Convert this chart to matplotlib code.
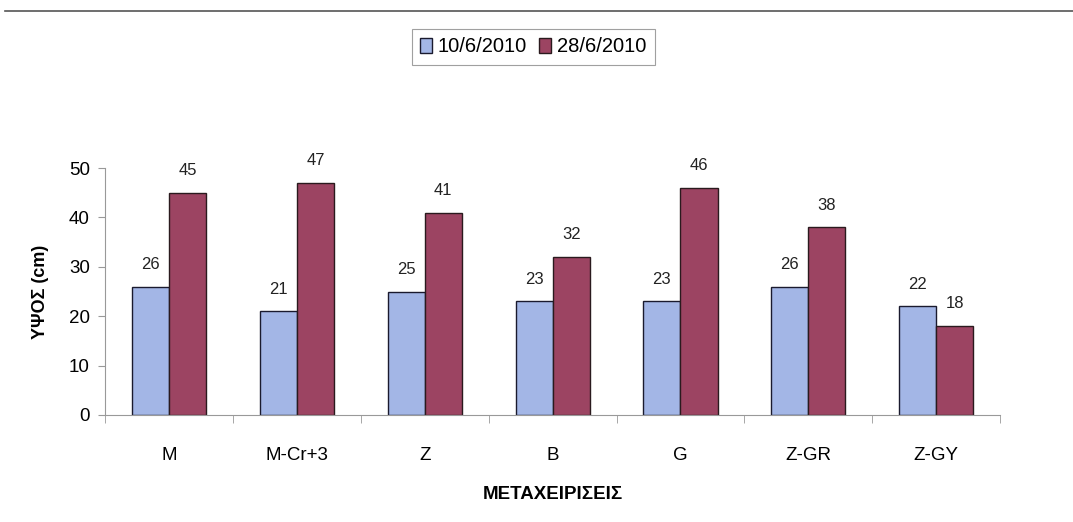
import numpy as np
import matplotlib.pyplot as plt
from matplotlib.lines import Line2D

plt.rcParams['font.family'] = ['Liberation Sans', 'DejaVu Sans']

categories = ["M", "M-Cr+3", "Z", "B", "G", "Z-GR", "Z-GY"]
height_10_6 = [26, 21, 25, 23, 23, 26, 22]
height_28_6 = [45, 47, 41, 32, 46, 38, 18]
series_labels = ["10/6/2010", "28/6/2010"]

fig = plt.figure(figsize=(10.73, 5.22), dpi=100)
ax = fig.add_axes([0.098, 0.205, 0.834, 0.473])

x = np.arange(len(categories))
w = 0.29
b1 = ax.bar(x - w / 2, height_10_6, w, color='#a3b6e6', edgecolor='#1a1a2e',
            linewidth=1.0, label=series_labels[0])
b2 = ax.bar(x + w / 2, height_28_6, w, color='#9c4462', edgecolor='#2a1a1e',
            linewidth=1.0, label=series_labels[1])

for bars, vals in ((b1, height_10_6), (b2, height_28_6)):
    for rect, v in zip(bars, vals):
        ax.annotate(f"{v}", (rect.get_x() + rect.get_width() / 2, v),
                    xytext=(0, 16), textcoords='offset points',
                    ha='center', va='center', fontsize=12,
                    color='#222222', annotation_clip=False)

ax.set_xlim(-0.5, len(categories) - 0.5)
ax.set_ylim(0, 50)
ax.set_yticks(range(0, 51, 10))
ax.tick_params(axis='y', labelsize=13.5, length=5, color='#999999', pad=6)
ax.set_xticks(x)
ax.set_xticklabels(categories)
ax.set_xticks(np.arange(-0.5, len(categories)), minor=True)
ax.tick_params(axis='x', which='major', length=0, labelsize=13.5, pad=23)
ax.tick_params(axis='x', which='minor', length=6, color='#999999')

for s in ('top', 'right'):
    ax.spines[s].set_visible(False)
for s in ('left', 'bottom'):
    ax.spines[s].set_color('#999999')

ax.set_ylabel("ΥΨΟΣ (cm)", fontsize=13, fontweight='bold', labelpad=14)
ax.set_xlabel("ΜΕΤΑΧΕΙΡΙΣΕΙΣ", fontsize=13.5, fontweight='bold', labelpad=16)

leg = fig.legend(loc='center', bbox_to_anchor=(0.497, 0.91), ncol=2,
                 fontsize=14.5, frameon=True, fancybox=False,
                 handlelength=0.6, handleheight=0.8, handletextpad=0.3,
                 columnspacing=0.6, borderpad=0.4)
leg.get_frame().set_edgecolor('#888888')
leg.get_frame().set_linewidth(0.8)

# thin frame line along the top edge
fig.add_artist(Line2D([0.005, 1.0], [0.979, 0.979], color='#555555', linewidth=1.2))

fig.savefig("out.png", dpi=100)
